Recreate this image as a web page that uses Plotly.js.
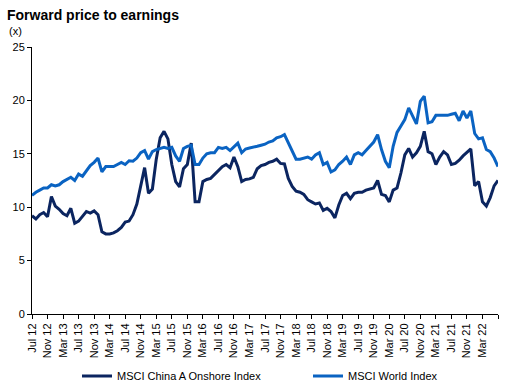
<!DOCTYPE html>
<html>
<head>
<meta charset="utf-8">
<script src="https://cdn.plot.ly/plotly-3.0.1.min.js"></script>
<style>html,body{margin:0;padding:0;background:#fff}#chart{width:524px;height:383px}</style>
</head>
<body>
<div id="chart"></div>
<script>
// Tick labels every 4 months, Jul 12 .. Jul 22 (last tick unlabeled)
const tickLabels = ["Jul 12","Nov 12","Mar 13","Jul 13","Nov 13","Mar 14","Jul 14","Nov 14","Mar 15","Jul 15","Nov 15","Mar 16","Jul 16","Nov 16","Mar 17","Jul 17","Nov 17","Mar 18","Jul 18","Nov 18","Mar 19","Jul 19","Nov 19","Mar 20","Jul 20","Nov 20","Mar 21","Jul 21","Nov 21","Mar 22",""];
const seriesNames = ["MSCI China A Onshore Index","MSCI World Index"];

// Monthly forward P/E, Jul 2012 .. Jul 2022
const chinaA = [9.2,8.9,9.3,9.5,9.1,11.0,10.1,9.8,9.4,9.2,9.9,8.5,
 8.7,9.1,9.6,9.45,9.65,9.3,7.7,7.5,7.5,7.6,7.8,8.1,
 8.6,8.7,9.3,10.3,11.9,13.7,11.3,11.7,14.5,16.5,17.1,16.4,
 14.0,12.4,11.9,13.6,14.0,16.0,10.5,10.5,12.4,12.6,12.7,13.1,
 13.5,13.8,14.0,13.7,14.7,13.8,12.4,12.6,12.65,12.8,13.6,13.9,
 14.0,14.2,14.3,14.5,14.1,14.05,12.7,11.95,11.5,11.4,11.2,10.7,
 10.5,10.3,10.4,9.7,9.9,9.6,9.0,10.2,11.1,11.3,10.8,11.3,
 11.4,11.4,11.6,11.7,11.8,12.5,11.2,11.1,10.5,11.6,11.8,13.2,
 14.9,15.5,14.7,15.1,15.7,17.1,15.2,15.0,14.0,14.7,15.2,14.9,
 14.0,14.1,14.4,14.8,15.1,15.45,12.0,12.4,10.5,10.1,10.9,12.0,
 12.5];
const world = [11.1,11.4,11.6,11.8,11.8,12.1,12.0,12.1,12.4,12.6,12.8,12.5,
 13.1,12.9,13.4,13.9,14.2,14.6,13.3,13.8,13.8,13.8,14.0,14.2,
 14.0,14.35,14.3,14.6,15.1,15.3,14.5,15.2,15.4,15.5,15.6,15.5,
 15.6,14.8,14.3,15.5,15.7,15.8,14.0,14.0,14.6,15.0,15.1,15.1,
 15.6,15.5,15.6,15.3,15.7,16.0,15.1,15.45,15.55,15.6,15.7,15.8,
 15.9,16.1,16.2,16.5,16.6,16.8,16.0,15.2,14.5,14.5,14.6,14.7,
 14.5,14.9,15.1,14.0,14.2,13.3,13.5,14.0,14.3,14.7,14.0,14.9,
 15.1,14.9,15.3,15.7,16.1,16.8,15.4,14.3,13.7,15.7,17.0,17.6,
 18.2,19.3,18.5,17.8,19.9,20.4,17.9,18.0,18.6,18.6,18.6,18.6,
 18.7,18.8,18.1,19.0,18.35,19.0,16.9,16.4,16.5,15.4,15.2,14.6,
 13.8];

const idx = chinaA.map((_, i) => i);
const tickVals = tickLabels.map((_, k) => k * 4);
const FONT = "Arial, 'Liberation Sans', sans-serif";

const traces = [
  {x: idx, y: chinaA, name: seriesNames[0], type: 'scatter', mode: 'lines',
   line: {color: '#0b2560', width: 3}, legend: 'legend'},
  {x: idx, y: world, name: seriesNames[1], type: 'scatter', mode: 'lines',
   line: {color: '#0a63c2', width: 3}, legend: 'legend2'}
];

const legendBase = {orientation: 'h', xref: 'container', yref: 'container', xanchor: 'left',
  y: 7/383, yanchor: 'middle', itemwidth: 30, bgcolor: 'rgba(0,0,0,0)', borderwidth: 0,
  font: {family: FONT, size: 11, color: '#000'}};

const layout = {
  width: 524, height: 383,
  margin: {l: 32, r: 26, t: 47, b: 69, autoexpand: false},
  paper_bgcolor: '#fff', plot_bgcolor: '#fff',
  font: {family: FONT, size: 11, color: '#000'},
  title: {text: '<b>Forward price to earnings</b>', x: 7/524, xref: 'container', xanchor: 'left',
          y: 1 - 15/383, yref: 'container', yanchor: 'middle',
          font: {family: FONT, size: 14, color: '#000'}},
  annotations: [{text: '(x)', xref: 'paper', yref: 'paper', x: -25/466, y: 1 + 16/267,
                 xanchor: 'left', yanchor: 'middle', showarrow: false,
                 font: {family: FONT, size: 11, color: '#000'}}],
  xaxis: {range: [0, 120], tickvals: tickVals, ticktext: tickLabels, tickangle: -90,
          showgrid: false, zeroline: false, showline: true, linecolor: '#000', linewidth: 1,
          ticks: 'outside', ticklen: 4, tickcolor: '#000', automargin: false,
          tickfont: {family: FONT, size: 11, color: '#000'}},
  yaxis: {range: [0, 25], dtick: 5, showgrid: false, zeroline: false, showline: true,
          linecolor: '#000', linewidth: 1, ticks: 'outside', ticklen: 4, tickcolor: '#000',
          automargin: false, tickfont: {family: FONT, size: 11, color: '#000'}},
  showlegend: true,
  legend: Object.assign({}, legendBase, {x: 77/524}),
  legend2: Object.assign({}, legendBase, {x: 308/524})
};

Plotly.newPlot('chart', traces, layout, {displayModeBar: false, staticPlot: true});
</script>
</body>
</html>
